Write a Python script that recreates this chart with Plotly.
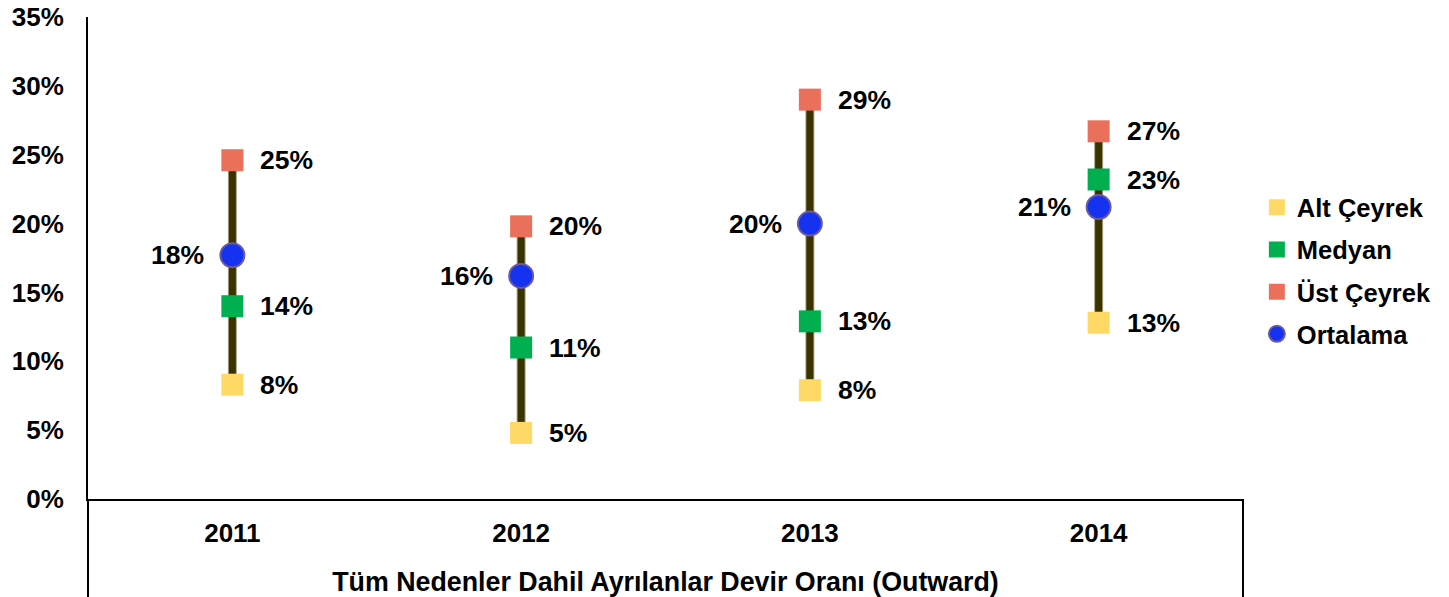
import plotly.graph_objects as go

years = ["2011", "2012", "2013", "2014"]
alt_ceyrek = [0.083, 0.048, 0.079, 0.128]
medyan = [0.140, 0.110, 0.129, 0.232]
ust_ceyrek = [0.246, 0.198, 0.290, 0.267]
ortalama = [0.177, 0.162, 0.200, 0.212]

FONT = "Liberation Sans, Arial, sans-serif"
fig = go.Figure()

# high-low lines
lx, ly = [], []
for i, y in enumerate(years):
    lx += [y, y, None]
    ly += [alt_ceyrek[i], ust_ceyrek[i], None]
fig.add_trace(go.Scatter(x=lx, y=ly, mode="lines", line=dict(color="#a8a284", width=9),
                         showlegend=False, hoverinfo="skip"))
fig.add_trace(go.Scatter(x=lx, y=ly, mode="lines", line=dict(color="#3a3300", width=7),
                         showlegend=False, hoverinfo="skip"))

tf = dict(family=FONT, size=26.5, color="black")
annotations = []

def add_labels(vals, right):
    for i, v in enumerate(vals):
        annotations.append(dict(
            x=i, y=v, xref="x", yref="y", text="<b>%d%%</b>" % round(v * 100),
            showarrow=False, font=tf, xanchor="left" if right else "right",
            yanchor="middle", xshift=26 if right else -26))

def sq(name, vals, color, group):
    fig.add_trace(go.Scatter(
        x=years, y=vals, name="<b>" + name + "</b>", mode="markers",
        marker=dict(symbol="square", size=22, color=color),
        legendgroup=group, cliponaxis=False))
    add_labels(vals, True)

sq("Alt Çeyrek", alt_ceyrek, "#FFD966", "a")
sq("Medyan", medyan, "#00AF50", "b")
sq("Üst Çeyrek", ust_ceyrek, "#EB705B", "c")
fig.add_trace(go.Scatter(
    x=years, y=ortalama, name="<b>Ortalama</b>", mode="markers",
    marker=dict(symbol="circle", size=24, color="#1432F0", line=dict(color="#6a5aa0", width=2)),
    legendgroup="d", cliponaxis=False))
add_labels(ortalama, False)

fig.update_layout(
    width=1449, height=597,
    margin=dict(l=88, r=204, t=17, b=98),
    paper_bgcolor="white", plot_bgcolor="white",
    font=dict(family=FONT, color="black"),
    annotations=annotations,
    legend=dict(x=1.012, y=0.653, xanchor="left", yanchor="top",
                font=dict(family=FONT, size=25.5, color="black"),
                tracegroupgap=6, itemsizing="trace"),
    xaxis=dict(type="category", range=[-0.5, 3.5], showline=True, linecolor="black", linewidth=2,
               showgrid=False, ticks="", ticklabelstandoff=10, automargin=False,
               tickfont=dict(family=FONT, size=26, color="black"),
               tickvals=years, ticktext=["<b>%s</b>" % y for y in years],
               title=dict(text="<b>Tüm Nedenler Dahil Ayrılanlar Devir Oranı (Outward)</b>",
                          font=dict(family=FONT, size=26.8, color="black"), standoff=26)),
    yaxis=dict(range=[0, 0.35], dtick=0.05, tickformat=".0%", showline=True, linecolor="black",
               linewidth=2, showgrid=False, ticks="", ticklabelstandoff=17, zeroline=False,
               automargin=False, ticklabeloverflow="allow",
               tickfont=dict(family=FONT, size=26, color="black")),
)
fig.update_yaxes(tickprefix="<b>", ticksuffix="</b>")

# extension lines below the category axis
fig.add_shape(type="line", xref="paper", yref="paper", x0=0, x1=0, y0=0, y1=-0.21,
              line=dict(color="black", width=2))
fig.add_shape(type="line", xref="paper", yref="paper", x0=1, x1=1, y0=0, y1=-0.21,
              line=dict(color="black", width=2))

# remove the default page margin so the figure fills the window exactly
fig.write_html("out.html", config={"displayModeBar": False},
               post_script="document.body.style.margin='0';")
